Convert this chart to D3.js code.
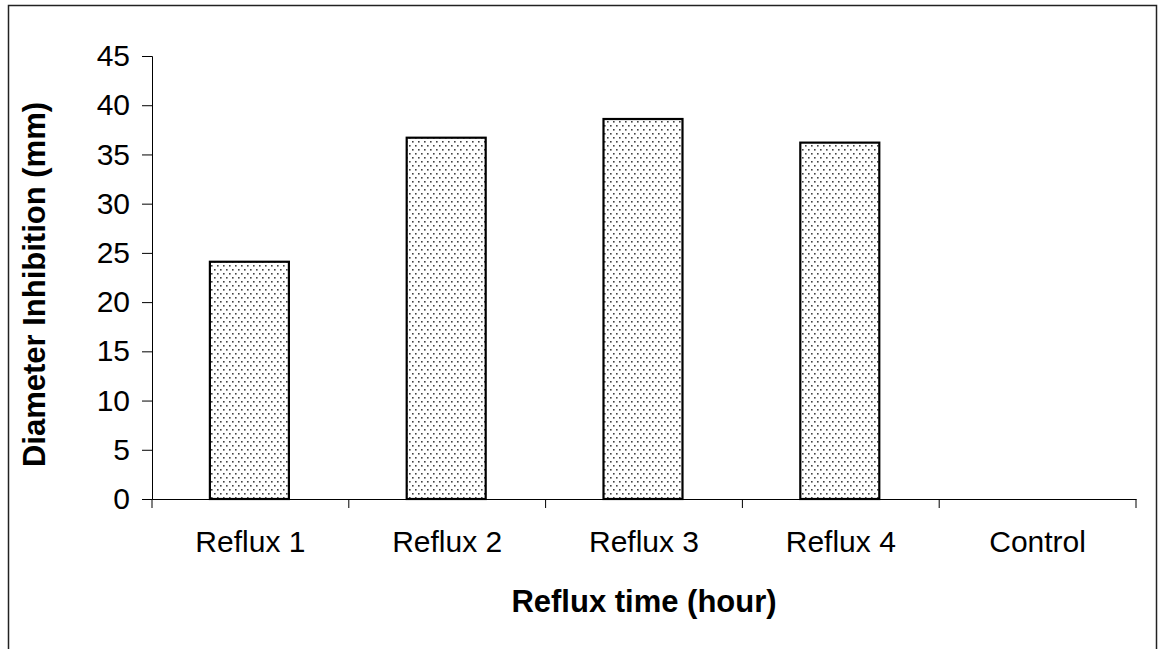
<!DOCTYPE html>
<html>
<head>
<meta charset="utf-8">
<script src="https://cdn.jsdelivr.net/npm/d3@7"></script>
<style>
  body { margin: 0; background: #fff; }
  text { font-family: "Liberation Sans", Arial, sans-serif; fill: #000; }
</style>
</head>
<body>
<svg width="1158" height="649"></svg>
<script>
const categories = ["Reflux 1", "Reflux 2", "Reflux 3", "Reflux 4", "Control"];
const values = [24.1, 36.7, 38.6, 36.2, 0];
const yTicks = [0, 5, 10, 15, 20, 25, 30, 35, 40, 45];

const svg = d3.select("svg"),
      width = +svg.attr("width"),
      height = +svg.attr("height");

const margin = { left: 152, right: 22, top: 56, bottom: 150 };
const plotRight = width - margin.right,
      plotBottom = height - margin.bottom;

// chart frame (bottom edge falls outside the picture)
svg.append("rect")
  .attr("x", 8.5).attr("y", 5.5)
  .attr("width", 1148).attr("height", 700)
  .attr("fill", "none")
  .attr("stroke", "#222")
  .attr("stroke-width", 1.5);

const defs = svg.append("defs");
const pat = defs.append("pattern")
  .attr("id", "dots")
  .attr("patternUnits", "userSpaceOnUse")
  .attr("width", 6).attr("height", 8);
pat.append("rect").attr("width", 6).attr("height", 8).attr("fill", "#fff");
pat.append("rect").attr("x", 1).attr("y", 1).attr("width", 1.6).attr("height", 1.6).attr("fill", "#444");
pat.append("rect").attr("x", 4).attr("y", 5).attr("width", 1.6).attr("height", 1.6).attr("fill", "#444");

const x = d3.scaleBand()
  .domain(categories)
  .range([margin.left, plotRight])
  .padding(0);

const y = d3.scaleLinear()
  .domain([0, 45])
  .range([plotBottom, margin.top]);

const barW = 79;

// bars
svg.append("g").selectAll("rect")
  .data(values.map((v, i) => ({ c: categories[i], v })).filter(d => d.v > 0))
  .enter().append("rect")
  .attr("x", d => x(d.c) + x.bandwidth() / 2 - barW / 2 - 1)
  .attr("y", d => y(d.v))
  .attr("width", barW)
  .attr("height", d => y(0) - y(d.v))
  .attr("fill", "url(#dots)")
  .attr("stroke", "#000")
  .attr("stroke-width", 2.2);

// y axis
const yAxis = svg.append("g")
  .attr("transform", `translate(${margin.left},0)`)
  .call(d3.axisLeft(y).tickValues(yTicks).tickSize(10).tickPadding(12));
yAxis.selectAll("text").style("font-size", "30px");

// x axis: labels under band centres, ticks at band boundaries
const xAxis = svg.append("g")
  .attr("transform", `translate(0,${plotBottom})`)
  .call(d3.axisBottom(x).tickSize(0).tickPadding(32));
xAxis.selectAll("text").style("font-size", "30px");
xAxis.selectAll(".tick line").remove();
xAxis.selectAll(".bound")
  .data(categories.concat(["end"]))
  .enter().append("line")
  .attr("class", "bound")
  .attr("x1", (d, i) => margin.left + i * x.step())
  .attr("x2", (d, i) => margin.left + i * x.step())
  .attr("y1", 0).attr("y2", 9)
  .attr("stroke", "#000");

svg.selectAll(".domain").attr("stroke", "#000");

// axis titles
svg.append("text")
  .attr("x", (margin.left + plotRight) / 2)
  .attr("y", 612)
  .attr("text-anchor", "middle")
  .style("font-size", "31px")
  .style("font-weight", "bold")
  .text("Reflux time (hour)");

svg.append("text")
  .attr("transform", `translate(45,${(margin.top + plotBottom) / 2 + 7}) rotate(-90)`)
  .attr("text-anchor", "middle")
  .style("font-size", "31px")
  .style("font-weight", "bold")
  .text("Diameter Inhibition (mm)");
</script>
</body>
</html>
